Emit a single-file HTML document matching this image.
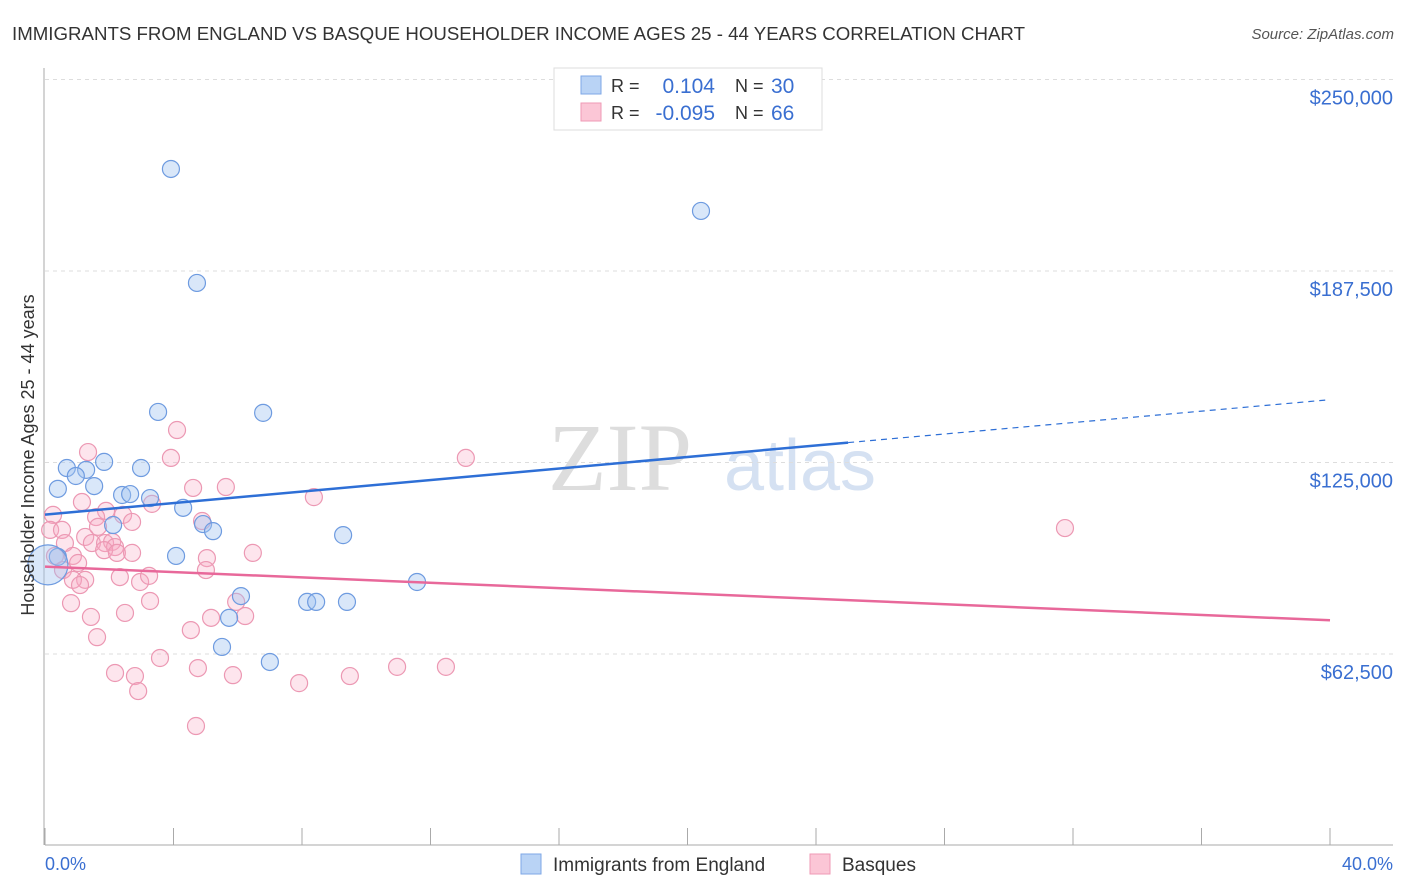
<!DOCTYPE html>
<html><head><meta charset="utf-8"><style>
body{margin:0;background:#fff;font-family:"Liberation Sans",sans-serif}
svg{display:block}
</style></head><body>
<svg id="chart" width="1406" height="892">
<text x="12" y="40" font-size="18" fill="#333" textLength="1013" lengthAdjust="spacingAndGlyphs">IMMIGRANTS FROM ENGLAND VS BASQUE HOUSEHOLDER INCOME AGES 25 - 44 YEARS CORRELATION CHART</text>
<text x="1394" y="39" font-size="15" fill="#555" font-style="italic" text-anchor="end">Source: ZipAtlas.com</text>
<text x="620" y="490" font-size="96" fill="#ddd" font-family="Liberation Serif,serif" text-anchor="middle">ZIP</text>
<text x="800" y="490" font-size="72" fill="#d5e1f2" text-anchor="middle">atlas</text>
<g id="grid"></g><g id="axes"></g><g id="pts"></g><g id="lines"></g>
<text transform="translate(34,455) rotate(-90)" font-size="18" fill="#333" text-anchor="middle">Householder Income Ages 25 - 44 years</text>
<text x="45" y="870" font-size="18" fill="#3a6fd1">0.0%</text>
<text x="1393" y="870" font-size="18" fill="#3a6fd1" text-anchor="end">40.0%</text>
<g>
<rect x="554" y="68" width="268" height="62" fill="#fff" stroke="#ddd"/>
<rect x="581" y="76" width="20" height="18" fill="#b9d3f5" stroke="#7ea7e6"/>
<rect x="581" y="103" width="20" height="18" fill="#fbc6d6" stroke="#ef9ab5"/>
<text x="611" y="92" font-size="18" fill="#333">R = </text><text x="715" y="93" font-size="21" fill="#3a6fd1" text-anchor="end">0.104</text>
<text x="735" y="92" font-size="18" fill="#333">N = </text><text x="771" y="93" font-size="21" fill="#3a6fd1">30</text>
<text x="611" y="119" font-size="18" fill="#333">R = </text><text x="715" y="120" font-size="21" fill="#3a6fd1" text-anchor="end">-0.095</text>
<text x="735" y="119" font-size="18" fill="#333">N = </text><text x="771" y="120" font-size="21" fill="#3a6fd1">66</text>
</g>
<g>
<rect x="521" y="854" width="20" height="20" fill="#b9d3f5" stroke="#7ea7e6"/>
<text x="553" y="871" font-size="19" fill="#333">Immigrants from England</text>
<rect x="810" y="854" width="20" height="20" fill="#fbc6d6" stroke="#ef9ab5"/>
<text x="842" y="871" font-size="19" fill="#333">Basques</text>
</g>
</svg>
<script>
const yTicks=[62500,125000,187500,250000];
const yTickLabels=["$62,500","$125,000","$187,500","$250,000"];
const xTicks=[0,4,8,12,16,20,24,28,32,36,40];
const englandX=[3.92,20.42,4.73,3.52,6.79,0.68,1.28,0.96,1.84,2.99,1.53,0.40,2.40,2.65,3.27,4.30,2.12,4.92,5.23,9.28,4.08,0.40,11.58,6.10,8.16,8.44,9.40,5.73,5.51,7.00,0.09];
const englandY=[220800,207100,183600,141500,141200,123200,122600,120600,125200,123200,117300,116400,114400,114700,113400,110200,104600,104900,102600,101300,94500,94200,86000,81400,79500,79500,79500,74300,64800,59900,91600];
const basqueX=[4.11,3.92,1.34,13.1,1.15,4.61,5.63,8.37,3.33,0.25,1.90,1.59,2.43,2.71,4.89,31.75,0.16,0.53,1.65,1.25,0.62,1.46,1.87,2.09,2.18,1.84,2.24,2.71,6.47,0.31,0.87,5.04,5.01,0.56,1.03,1.25,0.87,1.09,2.33,2.96,3.24,0.81,3.27,5.95,1.43,2.49,5.17,6.23,4.54,1.62,3.58,2.18,2.80,4.76,5.85,2.90,7.91,9.49,10.96,12.48,4.70];
const basqueY=[135600,126500,128400,126500,112100,116700,117000,113700,111500,107900,109200,107200,107900,105600,105900,103600,103000,103000,104000,100700,98700,98700,98700,99100,97400,96400,95500,95500,95500,94500,94500,93800,89900,89900,92200,86700,86700,85000,87600,86000,88000,79100,79800,79500,74600,75900,74300,74900,70300,68000,61200,56300,55300,57900,55600,50400,53000,55300,58300,58300,39000];
const englandTrend=[108000,131500,145500]; // at x=0, 25, 40
const basqueTrend=[91000,73500]; // at x=0, 40
const X=v=>45+v*32.125, Y=v=>654-(v-62500)*191.5/62500;
const NS="http://www.w3.org/2000/svg";
function mk(p,t,a){const e=document.createElementNS(NS,t);for(const k in a)e.setAttribute(k,a[k]);p.appendChild(e);return e;}
const grid=document.getElementById('grid'),axes=document.getElementById('axes'),pts=document.getElementById('pts'),lines=document.getElementById('lines');
yTicks.forEach((t,i)=>{
 const g=mk(grid,'line',{x1:45,x2:1393,y1:Y(t),y2:Y(t),stroke:'#ddd','stroke-dasharray':'4,4'});
 
 
 const l=mk(axes,'text',{x:1393,y:Y(t)+25,'font-size':20,fill:'#3a6fd1','text-anchor':'end'});
 l.textContent=yTickLabels[i];
 
 
});
const ax=mk(axes,'line',{x1:45,x2:1393,y1:845,y2:845,stroke:'#aaa'});


const ay=mk(axes,'line',{x1:44,x2:44,y1:68,y2:845,stroke:'#aaa'});


xTicks.forEach(t=>{
 const e=mk(axes,'line',{x1:X(t),x2:X(t),y1:828,y2:845,stroke:'#aaa'});
 
 
});
basqueX.forEach((x,i)=>{
 const c=mk(pts,'circle',{cx:X(x),cy:Y(basqueY[i]),r:8.5,fill:'rgba(248,170,195,0.3)',stroke:'#ec98b3','stroke-width':1.2});
 
 
});
englandX.forEach((x,i)=>{
 const big=i===englandX.length-1;
 const c=mk(pts,'circle',{cx:X(x),cy:Y(englandY[i]),r:big?20:8.5,fill:'rgba(160,195,240,0.4)',stroke:'#6e9be0','stroke-width':1.2});
 
 
});
const l1=mk(lines,'line',{x1:X(0),y1:Y(englandTrend[0]),x2:X(25),y2:Y(englandTrend[1]),stroke:'#2e6fd6','stroke-width':2.5});


const l2=mk(lines,'line',{x1:X(25),y1:Y(englandTrend[1]),x2:X(40),y2:Y(englandTrend[2]),stroke:'#2e6fd6','stroke-width':1.2,'stroke-dasharray':'6,5'});


const l3=mk(lines,'line',{x1:X(0),y1:Y(basqueTrend[0]),x2:X(40),y2:Y(basqueTrend[1]),stroke:'#e8689a','stroke-width':2.5});


</script>
</body></html>
